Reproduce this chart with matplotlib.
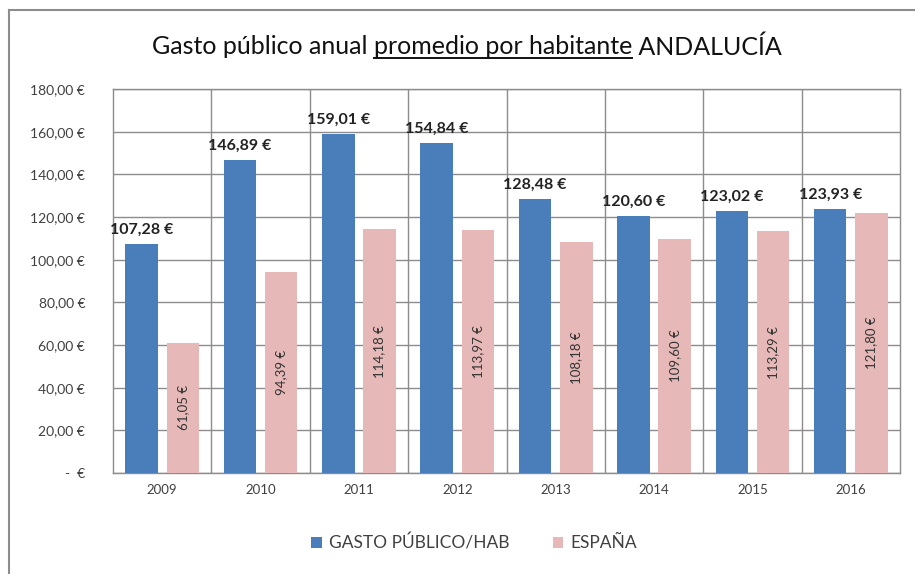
import matplotlib
matplotlib.use("Agg")
import matplotlib.pyplot as plt
import numpy as np

years = ["2009", "2010", "2011", "2012", "2013", "2014", "2015", "2016"]
gasto = [107.28, 146.89, 159.01, 154.84, 128.48, 120.60, 123.02, 123.93]
espana = [61.05, 94.39, 114.18, 113.97, 108.18, 109.60, 113.29, 121.80]
yticks = [0, 20, 40, 60, 80, 100, 120, 140, 160, 180]
series_names = ["GASTO PÚBLICO/HAB", "ESPAÑA"]

def eur(v):
    return f"{v:,.2f} €".replace(",", "X").replace(".", ",").replace("X", ".")

def tick_eur(v):
    return "-  €" if v == 0 else eur(v)

FONT = ["Lato", "DejaVu Sans"]
plt.rcParams["font.family"] = FONT

fig = plt.figure(figsize=(9.15, 5.74), dpi=100)
ax = fig.add_axes([113/915, 1-473/574, (900-113)/915, (473-89)/574])

x = np.arange(len(years))
w = 0.33
blue = "#4a7ebb"
pink = "#e6b9b8"
b1 = ax.bar(x - 0.21, gasto, w, color=blue, zorder=3)
b2 = ax.bar(x + 0.21, espana, w, color=pink, zorder=3)

ax.set_xlim(-0.5, len(years) - 0.5)
ax.set_ylim(0, 180)
ax.set_yticks(yticks)
ax.set_yticklabels([tick_eur(v) for v in yticks], fontsize=10, color="#404040")
ax.set_xticks(x)
ax.set_xticklabels(years, fontsize=9.5, color="#404040")
ax.tick_params(axis="both", length=0, pad=8)
ax.tick_params(axis="y", pad=20)

ax.grid(axis="y", color="#8c8c8c", linewidth=1.0, zorder=0)
for k in range(1, len(years)):
    ax.axvline(k - 0.5, color="#8c8c8c", linewidth=1.0, zorder=0)
for s in ax.spines.values():
    s.set_color("#8c8c8c")
    s.set_linewidth(1.0)

for xi, v in zip(x, gasto):
    ax.annotate(eur(v), (xi - 0.21, v), xytext=(0, 5), textcoords="offset points",
                ha="center", va="bottom", fontsize=11.5, fontweight="bold", color="#222222")
for xi, v in zip(x, espana):
    ax.text(xi + 0.21, v / 2, eur(v), rotation=90, ha="center", va="center",
            fontsize=9.5, color="#333333", zorder=4)

# Title with underlined middle part
fig.canvas.draw()
r = fig.canvas.get_renderer()
parts = ["Gasto público anual ", "promedio por habitante", " ANDALUCÍA"]
fs = 18
tmp = [fig.text(0, 0, p, fontsize=fs) for p in parts]
widths = [t.get_window_extent(r).width for t in tmp]
for t in tmp:
    t.remove()
total = sum(widths)
xpx = 467 - total / 2
ypx = 574 - 47
for i, p in enumerate(parts):
    t = fig.text(xpx / 915, ypx / 574, p, fontsize=fs, color="#111111", ha="left", va="center")
    if i == 1:
        bb = t.get_window_extent(r)
        fig.add_artist(plt.Line2D([bb.x0 / 915, bb.x1 / 915], [(bb.y0 + 1) / 574] * 2,
                                  color="#111111", linewidth=1.4))
    xpx += widths[i]

leg = fig.legend([b1, b2], series_names, loc="center", bbox_to_anchor=(474/915, 1-543/574),
                 ncol=2, frameon=False, fontsize=12.5, handlelength=0.6, handleheight=0.6,
                 columnspacing=2.5, handletextpad=0.4)
for t in leg.get_texts():
    t.set_color("#404040")

# outer chart border
fig.add_artist(plt.Line2D([9/915, 9/915], [0, 1-10/574], color="#8c8c8c", linewidth=1.5))
fig.add_artist(plt.Line2D([9/915, 1], [1-10/574, 1-10/574], color="#8c8c8c", linewidth=1.5))

fig.savefig("out.png", dpi=100)
